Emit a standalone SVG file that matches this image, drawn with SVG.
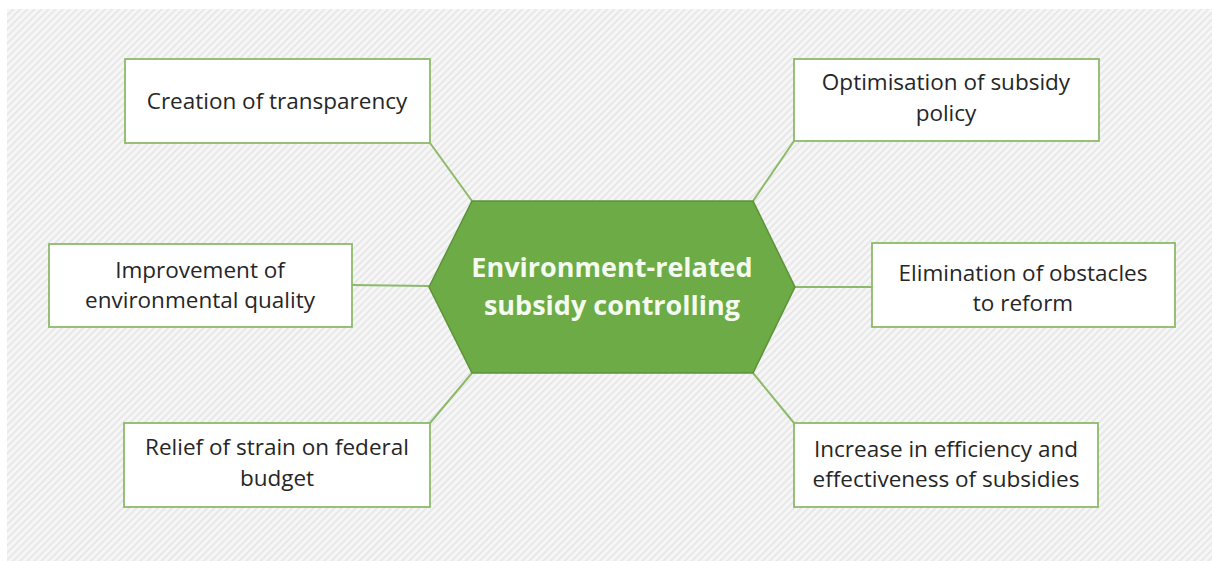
<svg xmlns="http://www.w3.org/2000/svg" width="1212" height="561" viewBox="0 0 1212 561">
  <defs>
    <pattern id="stripes" width="5" height="5" patternUnits="userSpaceOnUse" patternTransform="rotate(45)">
      <rect width="5" height="5" fill="#f6f6f6"/>
      <rect x="0" y="0" width="1.6" height="5" fill="#e5e5e5"/>
    </pattern>
  </defs>
  <style>
    .box { fill: #ffffff; stroke: #8cba6a; stroke-width: 1.8; }
    .lbl { font-family: "Open Sans", "DejaVu Sans", sans-serif; font-size: 22.5px; fill: #262626; text-anchor: middle; }
    .hub { fill: #6cab45; stroke: #5c933a; stroke-width: 1.5; }
    .hubtxt { font-family: "Open Sans", "DejaVu Sans", sans-serif; font-size: 27px; font-weight: bold; fill: #f4fbee; text-anchor: middle; }
    .link { stroke: #8cba6a; stroke-width: 2; fill: none; }
  </style>

  <rect x="0" y="0" width="1212" height="561" fill="#ffffff"/>
  <rect x="7" y="9" width="1205" height="552" fill="url(#stripes)"/>

  <g id="connectors">
    <line class="link" x1="430" y1="143" x2="472" y2="201"/>
    <line class="link" x1="794" y1="141" x2="753" y2="201"/>
    <line class="link" x1="352" y1="285" x2="429" y2="286"/>
    <line class="link" x1="795" y1="287" x2="872" y2="287"/>
    <line class="link" x1="430" y1="423" x2="472" y2="373"/>
    <line class="link" x1="753" y1="373" x2="794" y2="423"/>
  </g>

  <g id="hub">
    <polygon class="hub" points="472,201 753,201 795,287 753,373 472,373 429,287"/>
    <text class="hubtxt" x="612" y="277">Environment-related</text>
    <text class="hubtxt" x="612" y="315">subsidy controlling</text>
  </g>

  <g id="transparency">
    <rect class="box" x="125" y="59" width="305" height="84"/>
    <text class="lbl" x="277" y="109">Creation of transparency</text>
  </g>

  <g id="optimisation">
    <rect class="box" x="794" y="59" width="305" height="82"/>
    <text class="lbl" x="946" y="90">Optimisation of subsidy</text>
    <text class="lbl" x="946" y="121">policy</text>
  </g>

  <g id="environment">
    <rect class="box" x="49" y="244" width="303" height="83"/>
    <text class="lbl" x="200" y="278">Improvement of</text>
    <text class="lbl" x="200" y="308">environmental quality</text>
  </g>

  <g id="obstacles">
    <rect class="box" x="872" y="243" width="303" height="84"/>
    <text class="lbl" x="1023" y="281">Elimination of obstacles</text>
    <text class="lbl" x="1023" y="311">to reform</text>
  </g>

  <g id="budget">
    <rect class="box" x="124" y="423" width="306" height="84"/>
    <text class="lbl" x="277" y="455">Relief of strain on federal</text>
    <text class="lbl" x="277" y="486">budget</text>
  </g>

  <g id="efficiency">
    <rect class="box" x="794" y="423" width="304" height="84"/>
    <text class="lbl" x="946" y="457">Increase in efficiency and</text>
    <text class="lbl" x="946" y="487">effectiveness of subsidies</text>
  </g>
</svg>
